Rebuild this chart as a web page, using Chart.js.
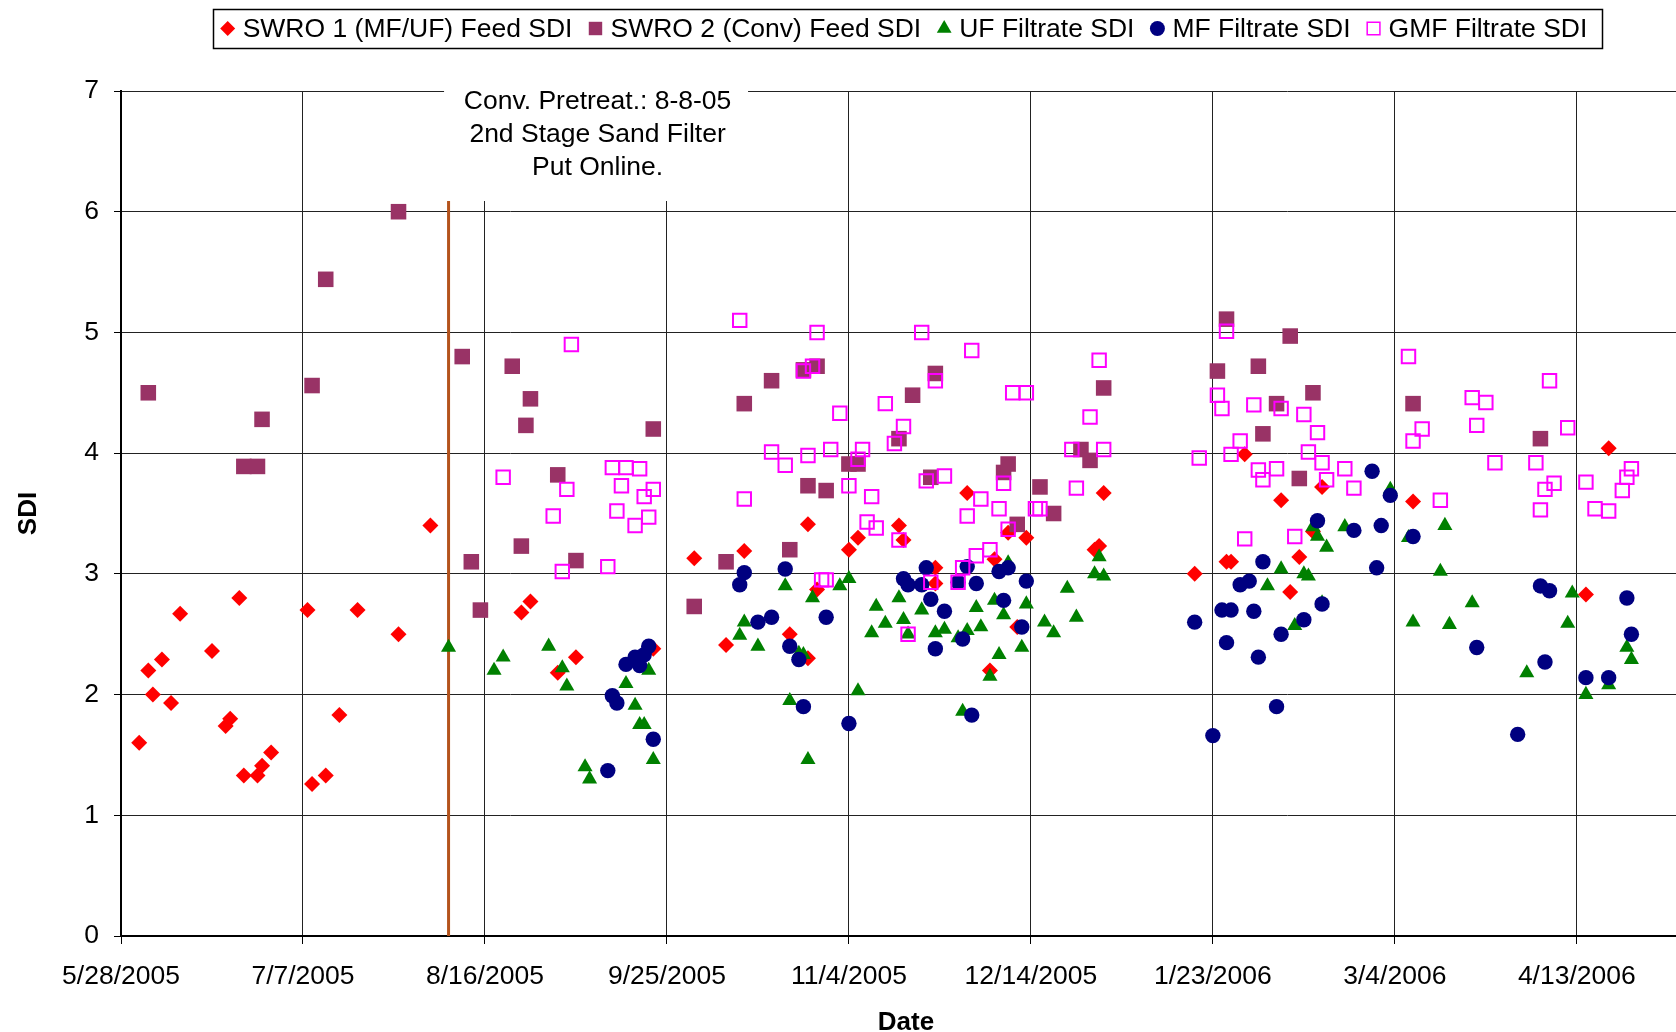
<!DOCTYPE html>
<html>
<head>
<meta charset="utf-8">
<script src="https://cdn.jsdelivr.net/npm/chart.js@4.4.1/dist/chart.umd.min.js"></script>
<style>
html, body { margin: 0; padding: 0; background: #fff; }
</style>
</head>
<body>
<canvas id="chart" width="1676" height="1032"></canvas>
<script>
// x values are days counted from 5/28/2005
const xTickDays = [0, 40, 80, 120, 160, 200, 240, 280, 320]
const xTickLabels = ['5/28/2005', '7/7/2005', '8/16/2005', '9/25/2005', '11/4/2005', '12/14/2005', '1/23/2006', '3/4/2006', '4/13/2006']
const xMaxDay = 341.8
const yTicks = [0, 1, 2, 3, 4, 5, 6, 7]

// 8/8/2005 marker line and its note
const noteDay = 72
const noteLines = ['Conv. Pretreat.: 8-8-05', '2nd Stage Sand Filter', 'Put Online.']

const seriesNames = ['SWRO 1 (MF/UF) Feed SDI', 'SWRO 2 (Conv) Feed SDI', 'UF Filtrate SDI', 'MF Filtrate SDI', 'GMF Filtrate SDI']

// [day, SDI]
const swro1Feed = [
	[4,1.60],[6,2.20],[7,2.00],[9,2.29],[11,1.93],[13,2.67],[20,2.36],[23,1.74],[24,1.80],[26,2.80],
	[27,1.33],[30,1.33],[31,1.41],[33,1.52],[41,2.70],[42,1.26],[45,1.33],[48,1.83],[52,2.70],[61,2.50],
	[68,3.40],[88,2.68],[90,2.77],[96,2.18],[100,2.31],[117,2.38],[126,3.13],[133,2.41],[137,3.19],[147,2.50],
	[151,3.41],[151,2.30],[153,2.87],[160,3.20],[162,3.30],[171,3.40],[172,3.28],[179,3.05],[179,2.92],[186,3.67],
	[191,2.20],[192,3.12],[195,3.34],[197,2.56],[199,3.30],[214,3.20],[215,3.23],[216,3.67],[236,3.00],[243,3.10],
	[244,3.10],[247,3.99],[255,3.61],[257,2.85],[259,3.14],[262,3.35],[264,3.72],[284,3.60],[322,2.83],[327,4.04]
]
const swro2Feed = [
	[6,4.50],[27,3.89],[30,3.89],[31,4.28],[42,4.56],[45,5.44],[61,6.00],[75,4.80],[77,3.10],[79,2.70],
	[86,4.72],[88,3.23],[89,4.23],[90,4.45],[96,3.82],[100,3.11],[117,4.20],[126,2.73],[133,3.10],[137,4.41],
	[143,4.60],[147,3.20],[150,4.69],[151,3.73],[153,4.72],[155,3.69],[160,3.91],[162,3.91],[171,4.12],[174,4.48],
	[178,3.80],[179,4.66],[194,3.84],[195,3.91],[197,3.41],[202,3.72],[205,3.50],[211,4.03],[213,3.94],[216,4.54],
	[241,4.68],[243,5.11],[250,4.72],[251,4.16],[254,4.41],[257,4.97],[259,3.79],[262,4.50],[284,4.41],[312,4.12]
]
const ufFiltrate = [
	[72,2.39],[82,2.20],[84,2.31],[94,2.40],[97,2.22],[98,2.07],[102,1.40],[103,1.30],[111,2.09],[113,1.91],
	[114,1.75],[115,1.75],[116,2.20],[117,1.46],[136,2.49],[137,2.60],[140,2.40],[146,2.90],[147,1.95],[149,2.34],
	[150,2.33],[151,1.46],[152,2.80],[158,2.90],[160,2.96],[162,2.03],[165,2.51],[166,2.73],[168,2.59],[171,2.80],
	[172,2.62],[173,2.50],[176,2.70],[179,2.51],[181,2.54],[184,2.47],[185,1.86],[186,2.53],[188,2.72],[189,2.56],
	[191,2.15],[192,2.78],[193,2.33],[194,2.66],[195,3.09],[198,2.39],[199,2.75],[203,2.60],[205,2.51],[208,2.88],
	[210,2.64],[214,3.00],[215,3.14],[216,2.98],[252,2.90],[255,3.04],[258,2.57],[260,3.00],[261,2.98],[262,3.39],
	[263,3.31],[264,2.76],[265,3.22],[269,3.39],[279,3.70],[283,3.30],[284,2.60],[290,3.02],[291,3.40],[292,2.58],
	[297,2.76],[309,2.18],[318,2.59],[319,2.84],[322,2.00],[327,2.08],[331,2.39],[332,2.29]
]
const mfFiltrate = [
	[107,1.37],[108,1.99],[109,1.93],[111,2.25],[113,2.31],[114,2.24],[115,2.33],[116,2.40],[117,1.63],[136,2.91],
	[137,3.01],[140,2.60],[143,2.64],[146,3.04],[147,2.40],[149,2.29],[150,1.90],[155,2.64],[160,1.76],[172,2.96],
	[173,2.91],[176,2.91],[177,3.05],[178,2.79],[179,2.38],[181,2.69],[184,2.93],[185,2.46],[186,3.06],[187,1.83],
	[188,2.92],[193,3.02],[194,2.78],[195,3.05],[198,2.56],[199,2.94],[236,2.60],[240,1.66],[242,2.70],[243,2.43],
	[244,2.70],[246,2.91],[248,2.94],[249,2.69],[250,2.31],[251,3.10],[254,1.90],[255,2.50],[260,2.62],[263,3.44],
	[264,2.75],[271,3.36],[275,3.85],[276,3.05],[277,3.40],[279,3.65],[284,3.31],[298,2.39],[307,1.67],[312,2.90],
	[313,2.27],[314,2.86],[322,2.14],[327,2.14],[331,2.80],[332,2.50]
]
const gmfFiltrate = [
	[84,3.80],[95,3.48],[97,3.02],[98,3.70],[99,4.90],[107,3.06],[108,3.88],[109,3.52],[110,3.73],[111,3.88],
	[113,3.40],[114,3.87],[115,3.64],[116,3.47],[117,3.70],[136,5.10],[137,3.62],[143,4.01],[146,3.90],[150,4.68],
	[151,3.98],[152,4.72],[153,5.00],[154,2.95],[155,2.95],[156,4.03],[158,4.33],[160,3.73],[162,3.95],[163,4.03],
	[164,3.43],[165,3.64],[166,3.38],[168,4.41],[170,4.08],[171,3.28],[172,4.22],[173,2.50],[176,5.00],[177,3.77],
	[178,2.93],[179,4.60],[181,3.81],[184,2.93],[185,3.05],[186,3.48],[187,4.85],[188,3.15],[189,3.62],[191,3.20],
	[193,3.54],[194,3.75],[195,3.37],[196,4.50],[199,4.50],[201,3.54],[202,3.54],[209,4.03],[210,3.71],[213,4.30],
	[215,4.77],[216,4.03],[237,3.96],[241,4.48],[242,4.37],[243,5.01],[244,3.99],[246,4.10],[247,3.29],[249,4.40],
	[250,3.86],[251,3.78],[254,3.87],[255,4.37],[258,3.31],[260,4.32],[261,4.01],[263,4.17],[264,3.92],[265,3.78],
	[269,3.87],[271,3.71],[283,4.80],[284,4.10],[286,4.20],[290,3.61],[297,4.46],[298,4.23],[300,4.42],[302,3.92],
	[311,3.92],[312,3.53],[313,3.70],[314,4.60],[315,3.75],[318,4.21],[322,3.76],[324,3.54],[327,3.52],[330,3.69],
	[331,3.80],[332,3.87]
]

const FONT = '"Liberation Sans", Arial, sans-serif'
const toPoints = arr => arr.map(p => ({x: p[0], y: p[1]}))

// note box, white patch and the brown line at 8/8/2005
const notePlugin = {
	id: 'note',
	beforeDatasetsDraw(chart) {
		const ctx = chart.ctx
		const area = chart.chartArea
		const x = chart.scales.x.getPixelForValue(noteDay)
		ctx.save()
		ctx.fillStyle = '#fff'
		ctx.fillRect(x - 4.5, area.top - 8, 304, 118)
		ctx.strokeStyle = '#b4531c'
		ctx.lineWidth = 3
		ctx.beginPath()
		ctx.moveTo(x, area.top + 110)
		ctx.lineTo(x, area.bottom)
		ctx.stroke()
		ctx.fillStyle = '#000'
		ctx.font = '26.5px ' + FONT
		ctx.textAlign = 'center'
		ctx.textBaseline = 'middle'
		noteLines.forEach((t, i) => ctx.fillText(t, x + 149, area.top + 11 + i * 33))
		// the original plot runs on past the right edge, so its axis title sits right of centre
		ctx.font = 'bold 26px ' + FONT
		ctx.fillText('Date', 906, 1023)
		ctx.restore()
	}
}

// boxed legend at the top
const legendPlugin = {
	id: 'boxLegend',
	afterDraw(chart) {
		const ctx = chart.ctx
		ctx.save()
		ctx.font = '26.5px ' + FONT
		const sets = chart.data.datasets
		const widths = sets.map(ds => ctx.measureText(ds.label).width)
		const padL = 15, mkGap = 15, itemGap = 23, padR = 14
		let total = padL + padR
		widths.forEach((w, i) => { total += mkGap + w + (i < widths.length - 1 ? itemGap : 0) })
		const top = 9, h = 39, cy = top + h / 2
		let x = 907 - total / 2
		ctx.strokeStyle = '#000'
		ctx.lineWidth = 1.5
		ctx.strokeRect(Math.round(x) + 0.5, top + 0.5, Math.round(total), h)
		x += padL
		sets.forEach((ds, i) => {
			ctx.fillStyle = ds.backgroundColor
			ctx.strokeStyle = ds.borderColor
			Chart.helpers.drawPoint(ctx, {pointStyle: ds.pointStyle, radius: ds.legendRadius, rotation: 0, borderWidth: ds.borderWidth}, x, cy)
			ctx.fillStyle = '#000'
			ctx.textAlign = 'left'
			ctx.textBaseline = 'middle'
			ctx.fillText(ds.label, x + mkGap, cy + 1)
			x += mkGap + widths[i] + itemGap
		})
		ctx.restore()
	}
}

const datasets = [
	{label: seriesNames[0], data: toPoints(swro1Feed), pointStyle: 'rectRot', radius: 8, legendRadius: 7.5,
		backgroundColor: '#ff0000', borderColor: '#ff0000', borderWidth: 0, order: 4},
	{label: seriesNames[1], data: toPoints(swro2Feed), pointStyle: 'rect', radius: 11, legendRadius: 9.5,
		backgroundColor: '#993366', borderColor: '#993366', borderWidth: 0, order: 3},
	{label: seriesNames[2], data: toPoints(ufFiltrate), pointStyle: 'triangle', radius: 8.7, legendRadius: 8.5,
		backgroundColor: '#008000', borderColor: '#008000', borderWidth: 0, order: 2},
	{label: seriesNames[3], data: toPoints(mfFiltrate), pointStyle: 'circle', radius: 7.7, legendRadius: 7.5,
		backgroundColor: '#000080', borderColor: '#000080', borderWidth: 0, order: 1},
	{label: seriesNames[4], data: toPoints(gmfFiltrate), pointStyle: 'rect', radius: 9.5, legendRadius: 9,
		backgroundColor: 'rgba(0,0,0,0)', borderColor: '#ff00ff', borderWidth: 2, order: 0}
]
datasets.forEach(ds => { ds.showLine = false; ds.pointRadius = ds.radius; ds.pointHoverRadius = ds.radius })

new Chart(document.getElementById('chart'), {
	type: 'scatter',
	data: {datasets: datasets},
	options: {
		responsive: false,
		animation: false,
		events: [],
		layout: {autoPadding: false, padding: {top: 91, left: 0, right: 0, bottom: 0}},
		plugins: {legend: {display: false}, tooltip: {enabled: false}},
		scales: {
			x: {
				type: 'linear',
				min: 0,
				max: xMaxDay,
				afterBuildTicks: s => { s.ticks = xTickDays.map(v => ({value: v})) },
				afterFit: s => { s.height = 96; s.paddingLeft = 0; s.paddingRight = 0 },
				ticks: {
					autoSkip: false, maxRotation: 0, padding: 17, color: '#000',
					font: {family: FONT, size: 26.5},
					callback: v => xTickLabels[xTickDays.indexOf(v)]
				},
				grid: {color: '#222', lineWidth: 1, tickLength: 8, tickColor: '#000'},
				border: {color: '#000', width: 2},
				title: {display: false}
			},
			y: {
				min: 0,
				max: 7,
				afterBuildTicks: s => { s.ticks = yTicks.map(v => ({value: v})) },
				afterFit: s => { s.width = 121 },
				ticks: {padding: 15, color: '#000', font: {family: FONT, size: 26.5}},
				grid: {color: '#222', lineWidth: 1, tickLength: 7, tickColor: '#000'},
				border: {color: '#000', width: 2},
				title: {display: true, text: 'SDI', color: '#000', padding: {top: 13, bottom: 0},
					font: {family: FONT, size: 26, weight: 'bold'}}
			}
		}
	},
	plugins: [notePlugin, legendPlugin]
})
</script>
</body>
</html>
